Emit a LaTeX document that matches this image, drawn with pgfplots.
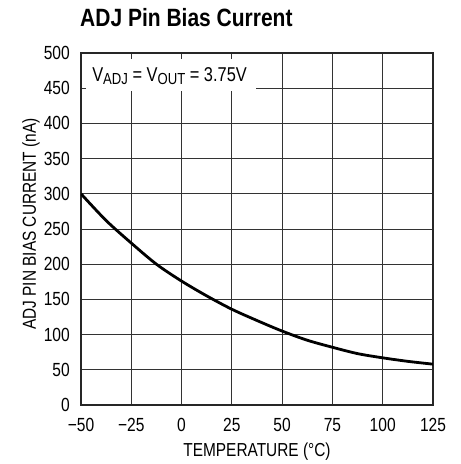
\documentclass[border=0pt]{standalone}
\usepackage{pgfplots}
\pgfplotsset{compat=1.18}
\usepackage{fontspec}
\setmainfont{Liberation Sans}[FakeStretch=0.82]
\newfontfamily\titlefont{Liberation Sans}[FakeStretch=0.84]

\begin{document}
\begin{tikzpicture}
\useasboundingbox (-81pt,-59pt) rectangle (380pt,405pt);
\begin{axis}[
  at={(0,0)}, anchor=south west,
  scale only axis,
  width=352pt, height=352pt,
  xmin=-50, xmax=125, ymin=0, ymax=500,
  xtick={-50,-25,0,25,50,75,100,125},
  xticklabels={−50,−25,0,25,50,75,100,125},
  ytick={0,50,...,500},
  grid=major,
  major grid style={black!80, line width=0.8pt},
  axis line style={black!85, line width=1.3pt},
  tick align=inside,
  major tick length=5pt,
  tick style={black!80, line width=0.8pt},
  /pgf/number format/assume math mode=true,
  ticklabel style={font=\fontsize{19}{22}\selectfont, inner sep=0pt},
  xticklabel style={anchor=north, yshift=-13pt},
  yticklabel style={anchor=east, xshift=-11pt},
  xlabel={TEMPERATURE (°C)},
  ylabel={ADJ PIN BIAS CURRENT (nA)},
  label style={font=\fontsize{18.8}{22}\selectfont, inner sep=0pt},
  xlabel style={at={(axis description cs:0.5,-0.145)}, anchor=base},
  ylabel style={at={(axis description cs:-0.128,0.514)}, anchor=base},
]
\addplot[black, line width=2.8pt, smooth] coordinates {
  (-50,300) (-37.5,262) (-25,230) (-12.5,200) (0,176) (12.5,155)
  (25,136) (37.5,120) (50,105) (62.5,92) (75,82) (87.5,73)
  (100,67) (112.5,62) (125,58)
};
\fill[white] (axis cs:-47.5,446) rectangle (axis cs:37,492);
\node[anchor=base west, font=\fontsize{20}{23}\selectfont, inner sep=0pt] at (axis cs:-44.5,460.2)
  {V\raisebox{-0.3ex}{\fontsize{16}{18}\selectfont ADJ} = V\raisebox{-0.3ex}{\fontsize{16}{18}\selectfont OUT} = 3.75V};
\end{axis}
\node[anchor=base west, inner sep=0pt, font=\titlefont\bfseries\fontsize{25}{29}\selectfont] at (-1pt,378pt) {ADJ Pin Bias Current};
\end{tikzpicture}
\end{document}
